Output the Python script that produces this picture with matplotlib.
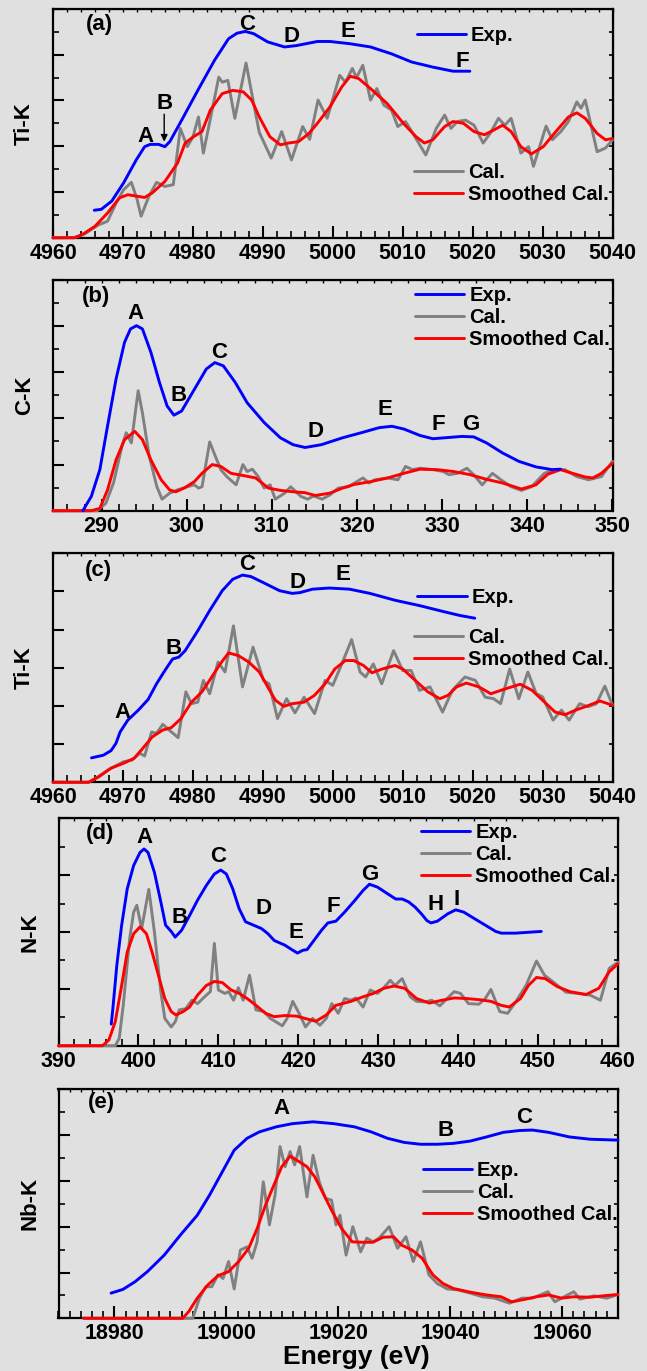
import matplotlib
matplotlib.use('Agg')
import matplotlib.pyplot as plt
from matplotlib.ticker import MultipleLocator, NullFormatter

plt.rcParams['font.family'] = ['Liberation Sans', 'DejaVu Sans']
plt.rcParams['font.weight'] = 'bold'
plt.rcParams['axes.labelweight'] = 'bold'

BG = '#e0e0e0'
BLUE = '#0000ff'
RED = '#ff0000'
GRAY = '#808080'

# ---------------- Panel (a): Ti-K ----------------
a_exp_x = [4965.9, 4966.9, 4968.4, 4970.1, 4971.9, 4973.1, 4973.9, 4975.1, 4976.0, 4976.7, 4978.4,
           4980.7, 4983.1, 4985.1, 4986.3, 4987.5, 4988.7, 4990.7, 4993.1, 4994.8, 4997.8, 4999.6,
           5002.5, 5005.4, 5008.4, 5011.3, 5014.3, 5017.2, 5019.6]
a_exp_y = [0.60, 0.62, 0.80, 1.20, 1.70, 1.99, 2.04, 2.04, 1.99, 2.10, 2.57,
           3.22, 3.88, 4.35, 4.47, 4.51, 4.46, 4.28, 4.17, 4.20, 4.29, 4.29,
           4.24, 4.17, 4.02, 3.84, 3.73, 3.64, 3.64]
a_cal_x = [4960, 4963, 4964.5, 4966.5, 4967.8, 4969.0, 4970.1, 4971.2, 4972.0, 4972.6, 4973.7, 4974.8,
           4976.0, 4977.2, 4978.2, 4979.2, 4980.0, 4980.8, 4981.5, 4982.5, 4983.7, 4984.2, 4985.0,
           4986.0, 4987.6, 4988.8, 4989.5, 4991.2, 4992.7, 4994.1, 4995.7, 4996.7, 4997.9, 4999.2,
           5001.0, 5001.8, 5002.8, 5003.4, 5004.3, 5005.4, 5006.3, 5007.3, 5008.4, 5009.3, 5010.4,
           5011.3, 5013.3, 5014.8, 5016.0, 5016.9, 5017.8, 5019.0, 5020.2, 5021.5, 5022.5, 5023.7,
           5024.6, 5025.5, 5026.9, 5028.0, 5028.7, 5030.5, 5031.4, 5032.6, 5033.7, 5034.9, 5035.5,
           5036.1, 5037.8, 5039.0, 5040.0]
a_cal_y = [0.0, 0.0, 0.08, 0.28, 0.36, 0.75, 1.05, 1.21, 0.85, 0.47, 0.90, 1.21,
           1.12, 1.16, 2.39, 1.99, 2.20, 2.64, 1.85, 2.60, 3.51, 3.40, 3.44,
           2.61, 3.82, 2.85, 2.30, 1.74, 2.32, 1.70, 2.43, 2.15, 3.01, 2.61,
           3.55, 3.40, 3.70, 3.50, 3.77, 3.01, 3.26, 2.90, 2.79, 2.43, 2.54,
           2.32, 1.81, 2.39, 2.68, 2.39, 2.54, 2.57, 2.46, 2.07, 2.28, 2.61,
           2.46, 2.61, 1.85, 1.99, 1.56, 2.44, 2.14, 2.32, 2.54, 2.97, 2.83,
           3.01, 1.88, 1.96, 2.14]
a_sm_x = [4960, 4963.1, 4964.2, 4966.0, 4967.8, 4969.5, 4970.7, 4973.1, 4974.2, 4976.0, 4977.8,
          4978.9, 4980.1, 4981.3, 4982.5, 4984.2, 4985.7, 4987.2, 4988.4, 4989.5, 4991.0, 4992.5,
          4993.7, 4995.1, 4996.6, 4997.8, 4999.6, 5001.3, 5002.5, 5003.7, 5005.4, 5007.8, 5010.1,
          5011.9, 5013.1, 5014.3, 5016.0, 5017.2, 5018.7, 5020.2, 5021.7, 5023.1, 5024.3, 5025.5,
          5026.9, 5028.4, 5030.1, 5031.9, 5033.7, 5034.9, 5036.1, 5037.8, 5039.0, 5040.0]
a_sm_y = [0.0, 0.0, 0.07, 0.25, 0.54, 0.87, 0.94, 0.88, 0.98, 1.23, 1.63,
          2.07, 2.21, 2.32, 2.79, 3.15, 3.22, 3.19, 3.01, 2.64, 2.21, 2.03,
          2.07, 2.10, 2.28, 2.50, 2.86, 3.30, 3.53, 3.48, 3.26, 2.93, 2.50,
          2.21, 2.07, 2.14, 2.43, 2.54, 2.50, 2.32, 2.25, 2.36, 2.46, 2.32,
          1.99, 1.83, 1.99, 2.32, 2.64, 2.73, 2.61, 2.28, 2.14, 2.17]
a_letters = ['(a)', 'A', 'B', 'C', 'D', 'E', 'F']
a_letter_x = [4966.6, 4973.2, 4975.9, 4987.8, 4994.1, 5002.2, 5018.5]
a_letter_y = [4.66, 2.21, 2.93, 4.67, 4.40, 4.51, 3.86]

# ---------------- Panel (b): C-K ----------------
b_exp_x = [287.8, 288.8, 289.8, 290.7, 291.7, 292.7, 293.4, 294.1, 294.8, 295.8, 296.8, 297.7,
           298.5, 299.4, 300.9, 302.3, 303.3, 304.3, 305.7, 307.1, 309.1, 311.0, 312.5, 313.9,
           315.8, 318.3, 320.7, 322.6, 324.1, 325.5, 327.4, 328.9, 330.3, 332.3, 333.7, 335.2,
           337.1, 339.0, 341.0, 342.9, 343.9]
b_exp_y = [0.0, 0.31, 0.89, 1.83, 2.85, 3.65, 3.94, 4.01, 3.94, 3.43, 2.78, 2.27,
           2.07, 2.16, 2.63, 3.07, 3.21, 3.14, 2.78, 2.34, 1.91, 1.58, 1.43, 1.37,
           1.43, 1.58, 1.70, 1.80, 1.83, 1.77, 1.63, 1.56, 1.58, 1.61, 1.60, 1.47,
           1.25, 1.07, 0.95, 0.89, 0.90]
b_cal_x = [284.3, 289.5, 290.5, 291.4, 292.4, 292.9, 293.5, 294.3, 294.8, 295.6, 296.5, 297.1,
           298.0, 298.9, 300.1, 300.9, 301.4, 301.8, 302.7, 303.3, 304.0, 304.7, 305.8, 306.6,
           307.1, 307.7, 308.4, 309.1, 309.8, 310.4, 311.5, 312.2, 313.4, 314.2, 314.9, 315.9,
           316.8, 317.8, 319.0, 319.7, 320.7, 321.4, 322.1, 323.6, 324.8, 325.7, 326.5, 327.4,
           328.9, 330.1, 330.8, 331.8, 332.9, 333.7, 334.7, 335.9, 336.9, 338.1, 339.3, 340.5,
           342.0, 343.2, 344.4, 345.8, 347.2, 348.7, 350.0]
b_cal_y = [0.0, 0.0, 0.16, 0.60, 1.40, 1.69, 1.47, 2.60, 2.12, 1.18, 0.52, 0.25,
           0.38, 0.45, 0.52, 0.56, 0.49, 0.52, 1.49, 1.21, 0.89, 0.74, 0.56, 1.00,
           0.85, 0.90, 0.74, 0.49, 0.56, 0.25, 0.38, 0.52, 0.31, 0.25, 0.32, 0.25,
           0.34, 0.49, 0.52, 0.60, 0.71, 0.60, 0.67, 0.71, 0.67, 0.96, 0.89, 0.92,
           0.89, 0.85, 0.78, 0.81, 0.92, 0.78, 0.56, 0.81, 0.67, 0.52, 0.44, 0.52,
           0.81, 0.89, 0.89, 0.74, 0.67, 0.74, 1.07]
b_sm_x = [284.3, 288.8, 289.8, 290.7, 291.7, 292.7, 293.9, 294.8, 295.8, 297.0, 298.0, 298.7,
          299.7, 300.9, 301.8, 303.0, 304.0, 305.2, 306.7, 308.1, 309.6, 311.0, 312.5, 313.9,
          315.1, 316.8, 318.3, 319.7, 321.6, 323.6, 325.5, 327.4, 329.4, 331.3, 333.3, 335.2,
          337.1, 339.3, 341.0, 342.4, 343.9, 345.3, 346.8, 347.7, 348.7, 350.0]
b_sm_y = [0.0, 0.0, 0.05, 0.45, 1.10, 1.54, 1.72, 1.54, 1.10, 0.67, 0.45, 0.41,
          0.49, 0.63, 0.81, 1.00, 0.96, 0.81, 0.76, 0.71, 0.49, 0.44, 0.41, 0.39,
          0.33, 0.38, 0.49, 0.57, 0.63, 0.71, 0.81, 0.90, 0.89, 0.85, 0.78, 0.68,
          0.60, 0.47, 0.56, 0.79, 0.89, 0.81, 0.73, 0.71, 0.81, 1.03]
b_letters = ['(b)', 'A', 'B', 'C', 'D', 'E', 'F', 'G']
b_letter_x = [289.4, 294.0, 299.1, 303.8, 315.1, 323.3, 329.6, 333.3]
b_letter_y = [4.65, 4.28, 2.49, 3.43, 1.72, 2.20, 1.87, 1.87]

# ---------------- Panel (c): Ti-K ----------------
c_exp_x = [4965.5, 4967.2, 4968.3, 4969.0, 4969.6, 4970.7, 4972.2, 4973.6, 4974.8, 4976.0, 4977.1,
           4978.0, 4978.9, 4980.7, 4982.4, 4984.2, 4985.7, 4987.1, 4988.3, 4990.1, 4992.4, 4994.2,
           4995.3, 4997.1, 4999.5, 5002.4, 5005.3, 5008.9, 5012.4, 5015.9, 5018.2, 5020.3]
c_exp_y = [0.64, 0.71, 0.83, 1.02, 1.32, 1.63, 1.89, 2.17, 2.58, 2.93, 3.23,
           3.28, 3.45, 3.97, 4.50, 5.02, 5.32, 5.43, 5.39, 5.23, 5.02, 4.95,
           4.97, 5.06, 5.09, 5.06, 4.95, 4.77, 4.63, 4.47, 4.37, 4.30]
c_cal_x = [4960, 4965.1, 4966.3, 4968.0, 4970.1, 4971.3, 4972.4, 4973.1, 4974.1, 4974.8, 4975.7,
           4976.6, 4977.9, 4979.0, 4979.8, 4980.7, 4981.5, 4982.4, 4983.6, 4984.6, 4985.8, 4987.1,
           4988.6, 4990.1, 4990.9, 4992.1, 4993.4, 4994.6, 4995.9, 4997.4, 4998.9, 5000.0, 5001.2,
           5002.7, 5003.9, 5004.7, 5005.8, 5007.0, 5008.7, 5010.0, 5011.2, 5012.4, 5013.9, 5015.7,
           5017.1, 5018.9, 5020.4, 5021.8, 5023.0, 5024.0, 5025.3, 5026.6, 5027.9, 5029.1, 5030.0,
           5031.5, 5032.7, 5033.8, 5035.3, 5036.5, 5037.7, 5038.9, 5040.0]
c_cal_y = [0.0, 0.0, 0.13, 0.34, 0.54, 0.58, 0.76, 0.69, 1.32, 1.28, 1.52,
           1.37, 1.17, 2.37, 2.06, 2.10, 2.67, 2.32, 3.15, 2.89, 4.10, 2.50,
           3.54, 2.67, 2.58, 1.67, 2.19, 1.82, 2.23, 1.80, 2.67, 2.54, 3.06,
           3.74, 2.89, 2.76, 3.10, 2.58, 3.45, 2.93, 2.93, 2.41, 2.50, 1.84,
           2.41, 2.76, 2.67, 2.23, 2.19, 2.06, 2.97, 2.19, 2.89, 2.32, 2.24,
           1.63, 1.89, 1.63, 2.06, 1.98, 2.06, 2.52, 2.02]
c_sm_x = [4960, 4965.1, 4966.6, 4968.3, 4970.1, 4971.6, 4972.7, 4974.2, 4975.7, 4976.9, 4978.3,
          4979.8, 4981.3, 4982.7, 4983.9, 4985.1, 4986.5, 4988.0, 4989.5, 4990.7, 4991.8, 4993.0,
          4994.2, 4995.9, 4997.4, 4998.9, 5000.3, 5001.8, 5003.0, 5004.4, 5005.6, 5007.1, 5008.9,
          5010.0, 5011.8, 5013.6, 5015.3, 5016.5, 5017.7, 5019.1, 5020.9, 5022.6, 5024.7, 5026.8,
          5028.5, 5030.0, 5031.8, 5033.2, 5034.7, 5036.4, 5038.2, 5040.0]
c_sm_y = [0.0, 0.0, 0.15, 0.37, 0.50, 0.63, 0.86, 1.19, 1.37, 1.43, 1.67,
          2.10, 2.37, 2.76, 3.10, 3.39, 3.32, 3.15, 2.89, 2.50, 2.15, 1.99,
          2.06, 2.10, 2.28, 2.58, 2.97, 3.19, 3.19, 3.06, 2.87, 2.97, 3.06,
          2.97, 2.67, 2.37, 2.19, 2.28, 2.50, 2.60, 2.50, 2.32, 2.45, 2.57,
          2.41, 2.15, 1.84, 1.77, 1.89, 2.00, 2.13, 2.02]
c_letters = ['(c)', 'A', 'B', 'C', 'D', 'E']
c_letter_x = [4966.5, 4969.9, 4977.3, 4987.7, 4994.9, 5001.5]
c_letter_y = [5.56, 1.84, 3.50, 5.70, 5.23, 5.45]

# ---------------- Panel (d): N-K ----------------
d_exp_x = [396.6, 396.8, 397.3, 397.9, 398.6, 399.4, 400.2, 400.7, 401.2, 402.0, 402.8, 403.4,
           404.1, 404.6, 405.4, 406.4, 407.4, 408.5, 409.5, 410.3, 411.0, 411.8, 412.6, 413.4,
           414.4, 415.4, 416.2, 417.0, 418.3, 419.3, 419.9, 420.6, 421.1, 421.9, 422.9, 423.7,
           424.7, 425.8, 427.1, 428.1, 428.9, 429.9, 431.2, 432.2, 433.0, 433.8, 434.6, 435.4,
           436.1, 436.6, 437.4, 438.7, 439.7, 440.7, 442.1, 443.4, 444.7, 445.4, 447.2, 449.3,
           450.4]
d_exp_y = [0.38, 0.65, 1.42, 2.12, 2.76, 3.17, 3.40, 3.46, 3.40, 3.05, 2.53, 2.12,
           2.01, 1.91, 2.03, 2.29, 2.56, 2.82, 3.02, 3.09, 3.02, 2.76, 2.41, 2.18,
           2.12, 2.06, 1.97, 1.85, 1.77, 1.68, 1.63, 1.68, 1.69, 1.84, 2.03, 2.16,
           2.19, 2.35, 2.56, 2.73, 2.84, 2.79, 2.67, 2.58, 2.58, 2.53, 2.44, 2.32,
           2.20, 2.16, 2.19, 2.32, 2.39, 2.35, 2.23, 2.12, 2.01, 1.98, 1.98, 2.00,
           2.01]
d_cal_x = [390.0, 397.1, 397.6, 398.1, 398.9, 399.4, 399.8, 400.4, 401.3, 402.0, 402.8, 403.3,
           404.1, 404.6, 405.1, 405.9, 406.7, 407.4, 408.5, 409.0, 409.5, 410.0, 410.8, 411.3,
           411.9, 412.5, 413.1, 413.9, 414.7, 415.7, 416.5, 417.2, 418.0, 418.6, 419.3, 420.1,
           420.9, 421.8, 422.7, 423.5, 424.2, 425.0, 425.8, 426.6, 427.2, 428.1, 429.0, 429.9,
           430.7, 431.5, 432.1, 433.0, 434.0, 434.8, 435.9, 436.7, 437.7, 438.7, 439.5, 440.3,
           441.3, 442.6, 443.4, 444.1, 445.2, 446.2, 447.2, 448.5, 449.8, 450.8, 451.9, 453.5,
           455.0, 456.5, 457.8, 458.9, 460.0]
d_cal_y = [0.0, 0.0, 0.13, 0.71, 1.88, 2.35, 2.47, 2.06, 2.75, 2.00, 0.95, 0.48,
           0.33, 0.42, 0.63, 0.65, 0.80, 0.74, 0.89, 0.95, 1.80, 0.98, 0.92, 0.95,
           0.80, 1.02, 0.80, 1.24, 0.63, 0.60, 0.48, 0.42, 0.35, 0.48, 0.78, 0.57,
           0.33, 0.48, 0.36, 0.48, 0.74, 0.57, 0.83, 0.80, 0.84, 0.68, 0.98, 0.92,
           1.02, 1.15, 1.06, 1.18, 0.86, 0.78, 0.77, 0.80, 0.70, 0.84, 0.95, 0.92,
           0.74, 0.73, 0.83, 0.99, 0.60, 0.57, 0.77, 1.06, 1.49, 1.24, 1.12, 0.94,
           0.92, 0.89, 0.80, 1.36, 1.47]
d_sm_x = [390.0, 395.5, 396.3, 397.1, 397.9, 398.6, 399.4, 400.2, 401.0, 401.7, 402.5, 403.3,
          404.1, 404.7, 405.6, 406.4, 407.4, 408.5, 409.5, 410.5, 411.6, 412.6, 413.6, 414.7,
          415.9, 417.0, 418.3, 419.8, 421.1, 422.2, 423.5, 424.7, 426.6, 428.1, 429.4, 430.7,
          432.0, 433.3, 434.8, 436.4, 438.0, 439.5, 441.0, 442.6, 444.1, 445.4, 446.4, 447.8,
          448.8, 449.8, 450.9, 452.4, 454.0, 456.0, 457.6, 458.9, 460.0]
d_sm_y = [0.0, 0.0, 0.10, 0.42, 1.06, 1.65, 1.97, 2.09, 1.97, 1.65, 1.24, 0.83,
          0.60, 0.54, 0.60, 0.68, 0.89, 1.06, 1.13, 1.11, 0.98, 0.92, 0.83, 0.71,
          0.57, 0.51, 0.53, 0.52, 0.47, 0.43, 0.54, 0.71, 0.78, 0.86, 0.92, 1.01,
          1.05, 1.01, 0.83, 0.75, 0.80, 0.84, 0.83, 0.81, 0.78, 0.71, 0.68, 0.83,
          1.06, 1.20, 1.18, 1.04, 0.95, 0.90, 1.01, 1.30, 1.44]
d_letters = ['(d)', 'A', 'B', 'C', 'D', 'E', 'F', 'G', 'H', 'I']
d_letter_x = [395.2, 400.7, 405.1, 410.0, 415.7, 419.7, 424.4, 428.9, 437.2, 439.8]
d_letter_y = [3.73, 3.67, 2.26, 3.32, 2.41, 2.00, 2.44, 3.02, 2.48, 2.58]

# ---------------- Panel (e): Nb-K ----------------
e_exp_x = [18979.4, 18981.5, 18983.7, 18985.9, 18988.9, 18991.8, 18994.8, 18997.0, 18999.6,
           19001.4, 19003.7, 19005.9, 19008.9, 19011.8, 19015.5, 19019.2, 19022.9, 19025.9,
           19028.8, 19031.8, 19034.7, 19037.7, 19040.6, 19043.6, 19046.5, 19049.5, 19052.4,
           19054.7, 19057.6, 19061.3, 19065.0, 19070.0]
e_exp_y = [0.55, 0.63, 0.80, 1.02, 1.38, 1.82, 2.25, 2.69, 3.27,
           3.67, 3.93, 4.07, 4.18, 4.25, 4.29, 4.25, 4.18, 4.07,
           3.93, 3.84, 3.80, 3.80, 3.82, 3.87, 3.96, 4.06, 4.10,
           4.11, 4.06, 3.96, 3.91, 3.89]
e_cal_x = [18974.5, 18994.0, 18995.2, 18996.3, 18997.4, 18998.5, 18999.4, 19000.4, 19001.4,
           19002.5, 19003.7, 19004.6, 19005.5, 19006.6, 19007.7, 19008.7, 19009.6, 19010.5,
           19011.4, 19012.2, 19013.1, 19014.4, 19015.5, 19016.6, 19017.7, 19018.8, 19019.6,
           19020.3, 19021.4, 19022.6, 19024.0, 19025.1, 19026.2, 19027.3, 19029.1, 19030.6,
           19032.1, 19033.4, 19034.7, 19036.2, 19037.7, 19039.5, 19041.4, 19043.6, 19045.8,
           19048.0, 19050.6, 19052.8, 19054.7, 19057.5, 19058.7, 19059.9, 19062.1, 19063.2,
           19065.7, 19068.0, 19070.0]
e_cal_y = [0.0, 0.0, 0.44, 0.69, 0.69, 0.95, 0.87, 1.24, 0.64,
           1.49, 1.56, 1.31, 1.67, 2.98, 2.04, 2.69, 3.75, 3.31,
           3.64, 3.35, 3.75, 2.65, 3.56, 2.98, 2.62, 2.58, 2.04,
           2.25, 1.38, 2.00, 1.45, 1.75, 1.67, 1.75, 2.00, 1.53,
           1.78, 1.24, 1.67, 0.95, 0.76, 0.64, 0.62, 0.55, 0.47,
           0.44, 0.33, 0.44, 0.44, 0.58, 0.36, 0.44, 0.58, 0.42,
           0.49, 0.44, 0.52]
e_sm_x = [18974.5, 18992.2, 18993.3, 18994.8, 18996.7, 18998.5, 19000.4, 19002.2, 19004.0,
          19005.5, 19007.0, 19008.5, 19009.9, 19011.4, 19012.9, 19014.4, 19015.8, 19017.3,
          19018.8, 19020.6, 19022.5, 19024.3, 19026.2, 19028.0, 19029.9, 19031.3, 19033.2,
          19035.0, 19036.9, 19038.7, 19040.6, 19043.6, 19046.5, 19049.1, 19051.0, 19053.2,
          19055.4, 19057.6, 19059.9, 19062.1, 19065.0, 19067.3, 19070.0]
e_sm_y = [0.0, 0.0, 0.15, 0.44, 0.73, 0.93, 1.02, 1.24, 1.53,
          1.96, 2.47, 2.91, 3.31, 3.54, 3.43, 3.31, 3.09, 2.73,
          2.36, 1.96, 1.67, 1.66, 1.66, 1.77, 1.78, 1.60, 1.49,
          1.31, 0.95, 0.76, 0.65, 0.57, 0.51, 0.47, 0.36, 0.41,
          0.47, 0.51, 0.44, 0.47, 0.46, 0.49, 0.52]
e_letters = ['(e)', 'A', 'B', 'C']
e_letter_x = [18977.7, 19009.9, 19039.2, 19053.2]
e_letter_y = [4.71, 4.58, 4.09, 4.39]

legend_labels = ['Exp.', 'Cal.', 'Smoothed Cal.']
y_labels = ['Ti-K', 'C-K', 'Ti-K', 'N-K', 'Nb-K']

W, H = 647.0, 1371.0
panels = [
    dict(px=(53, 612.5, 9.0, 237.7), xlim=(4960, 5040), ylim=(0, 5), xmaj=10, xmin=2, ymaj=1, ymin=0.5,
         exp=(a_exp_x, a_exp_y), cal=(a_cal_x, a_cal_y), sm=(a_sm_x, a_sm_y),
         letters=(a_letters, a_letter_x, a_letter_y), leg='split',
         leg1=(0.650, 0.882), leg2=(0.645, 0.235)),
    dict(px=(53, 612.5, 280.0, 510.7), xlim=(284.3, 350), ylim=(0, 5), xmaj=10, xmin=2, ymaj=1, ymin=0.5,
         exp=(b_exp_x, b_exp_y), cal=(b_cal_x, b_cal_y), sm=(b_sm_x, b_sm_y),
         letters=(b_letters, b_letter_x, b_letter_y), leg='one', leg1=(0.647, 0.837)),
    dict(px=(53, 612.5, 553.3, 782.3), xlim=(4960, 5040), ylim=(0, 6), xmaj=10, xmin=2, ymaj=1, ymin=None,
         exp=(c_exp_x, c_exp_y), cal=(c_cal_x, c_cal_y), sm=(c_sm_x, c_sm_y),
         letters=(c_letters, c_letter_x, c_letter_y), leg='split',
         leg1=(0.651, 0.808), leg2=(0.645, 0.585)),
    dict(px=(58.5, 618, 818.3, 1045.7), xlim=(390, 460), ylim=(0, 4), xmaj=10, xmin=2, ymaj=1, ymin=0.5,
         exp=(d_exp_x, d_exp_y), cal=(d_cal_x, d_cal_y), sm=(d_sm_x, d_sm_y),
         letters=(d_letters, d_letter_x, d_letter_y), leg='one', leg1=(0.648, 0.841)),
    dict(px=(58.5, 618, 1089.3, 1318.3), xlim=(18970, 19070), ylim=(0, 5), xmaj=20, xmin=2, ymaj=1, ymin=0.5,
         exp=(e_exp_x, e_exp_y), cal=(e_cal_x, e_cal_y), sm=(e_sm_x, e_sm_y),
         letters=(e_letters, e_letter_x, e_letter_y), leg='one', leg1=(0.651, 0.550)),
]

fig = plt.figure(figsize=(W / 100, H / 100), dpi=100, facecolor=BG)
FS_TICK = 15.5
FS_LET = 16
FS_LEG = 14.5
FS_YLAB = 16
LW = 2.1
line_kw = dict(lw=LW, solid_joinstyle='round', solid_capstyle='round', clip_on=False)

for i, p in enumerate(panels):
    l, r, t, b = p['px']
    ax = fig.add_axes([l / W, 1 - b / H, (r - l) / W, (b - t) / H])
    ax.set_facecolor(BG)
    ax.set_xlim(*p['xlim'])
    ax.set_ylim(*p['ylim'])
    for s in ax.spines.values():
        s.set_linewidth(1.6)
        s.set_zorder(1)
    ax.xaxis.set_major_locator(MultipleLocator(p['xmaj']))
    ax.xaxis.set_minor_locator(MultipleLocator(p['xmin']))
    ax.yaxis.set_major_locator(MultipleLocator(p['ymaj']))
    if p['ymin']:
        ax.yaxis.set_minor_locator(MultipleLocator(p['ymin']))
    ax.tick_params(axis='x', which='major', direction='in', length=9, width=1.5,
                   labelsize=FS_TICK, pad=3.5, top=False)
    ax.tick_params(axis='x', which='minor', direction='in', length=5, width=1.2, top=False)
    ax.tick_params(axis='y', which='major', direction='in', length=8, width=1.5,
                   labelleft=False, right=False)
    ax.tick_params(axis='y', which='minor', direction='in', length=4.5, width=1.2, right=False)
    for lab in ax.get_xticklabels():
        lab.set_fontweight('bold')

    # small ticks on top and right
    sx = ax.secondary_xaxis('top')
    sx.xaxis.set_major_locator(MultipleLocator(p['xmaj']))
    sx.xaxis.set_minor_locator(MultipleLocator(p['xmin']))
    sx.xaxis.set_major_formatter(NullFormatter())
    sx.tick_params(which='both', direction='in', length=2.5, width=1.0)
    sy = ax.secondary_yaxis('right')
    sy.yaxis.set_major_locator(MultipleLocator(p['ymaj']))
    if p['ymin']:
        sy.yaxis.set_minor_locator(MultipleLocator(p['ymin']))
    sy.yaxis.set_major_formatter(NullFormatter())
    sy.tick_params(which='both', direction='in', length=3, width=1.2)

    lc, = ax.plot(*p['cal'], color=GRAY, zorder=3, **line_kw)
    ls, = ax.plot(*p['sm'], color=RED, zorder=4, **line_kw)
    le, = ax.plot(*p['exp'], color=BLUE, zorder=5, **line_kw)

    names, lx, ly = p['letters']
    for s_, x_, y_ in zip(names, lx, ly):
        ax.text(x_, y_, s_, ha='center', va='center', fontsize=FS_LET, fontweight='bold', zorder=6)

    ax.set_ylabel(y_labels[i], fontsize=FS_YLAB, fontweight='bold')
    ax.yaxis.set_label_coords(-0.032, 0.5)

    kw = dict(loc='center left', frameon=False, prop={'weight': 'bold', 'size': FS_LEG},
              handlelength=2.45, handletextpad=0.25, labelspacing=0.15, borderpad=0,
              borderaxespad=0)
    if p['leg'] == 'split':
        lg1 = ax.legend([le], [legend_labels[0]], bbox_to_anchor=p['leg1'], **kw)
        ax.add_artist(lg1)
        ax.legend([lc, ls], legend_labels[1:], bbox_to_anchor=p['leg2'], **kw)
    else:
        ax.legend([le, lc, ls], legend_labels, bbox_to_anchor=p['leg1'], **kw)

    if i == 0:
        ax.annotate('', xy=(4975.9, 2.10), xytext=(4975.9, 2.70),
                    arrowprops=dict(arrowstyle='-|>', color='black', lw=1.0,
                                    mutation_scale=10, shrinkA=0, shrinkB=0), zorder=6)
    if i == 4:
        lab = ax.set_xlabel('Energy (eV)', fontsize=19, fontweight='bold')
        lab.set_va('center')
        ax.xaxis.set_label_coords(0.532, -0.169)

fig.savefig('out.png', dpi=100, facecolor=BG)
